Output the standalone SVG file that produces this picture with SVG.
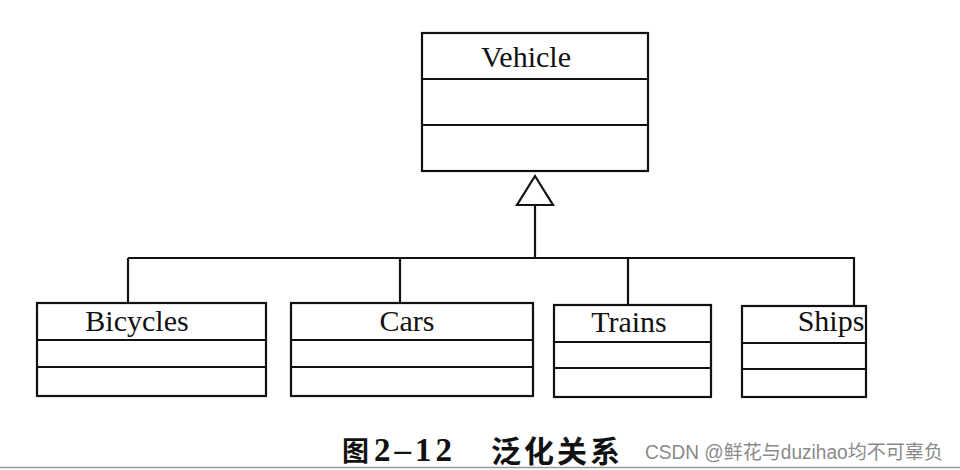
<svg xmlns="http://www.w3.org/2000/svg" width="960" height="470" viewBox="0 0 960 470">
<style>
.box{fill:none;stroke:#111;stroke-width:2.2}
.ln{fill:none;stroke:#111;stroke-width:2.2}
.lbl{font-family:"Liberation Serif",serif;font-size:30px;fill:#111;text-anchor:middle}
.cap{font-family:"Liberation Serif","Noto Sans CJK SC",serif;font-weight:bold;fill:#111}
.wm{font-family:"Liberation Sans","Noto Sans CJK SC",sans-serif;font-size:19.5px;fill:#8a8a8a}
</style>
<rect width="960" height="470" fill="#fff"/>
<g id="vehicle">
<rect class="box" x="422" y="33" width="226" height="138"/>
<line class="ln" x1="422" y1="79" x2="648" y2="79"/>
<line class="ln" x1="422" y1="125" x2="648" y2="125"/>
<text class="lbl" x="526" y="67">Vehicle</text>
</g>
<g id="connectors">
<polygon points="535,176 517,205 553,205" fill="#fff" stroke="#111" stroke-width="2.2" stroke-linejoin="miter"/>
<line class="ln" x1="535" y1="205" x2="535" y2="258"/>
<line class="ln" x1="128" y1="258" x2="855" y2="258"/>
<line class="ln" x1="128" y1="258" x2="128" y2="303"/>
<line class="ln" x1="400" y1="258" x2="400" y2="303"/>
<line class="ln" x1="628" y1="258" x2="628" y2="304"/>
<line class="ln" x1="854" y1="258" x2="854" y2="305"/>
</g>
<g id="bicycles">
<rect class="box" x="37" y="303" width="229" height="93"/>
<line class="ln" x1="37" y1="340" x2="266" y2="340"/>
<line class="ln" x1="37" y1="367" x2="266" y2="367"/>
<text class="lbl" x="137" y="331">Bicycles</text>
</g>
<g id="cars">
<rect class="box" x="291" y="303" width="242" height="93"/>
<line class="ln" x1="291" y1="340" x2="533" y2="340"/>
<line class="ln" x1="291" y1="367" x2="533" y2="367"/>
<text class="lbl" x="407" y="331">Cars</text>
</g>
<g id="trains">
<rect class="box" x="554" y="305" width="157" height="92"/>
<line class="ln" x1="554" y1="342" x2="711" y2="342"/>
<line class="ln" x1="554" y1="368" x2="711" y2="368"/>
<text class="lbl" x="629" y="332">Trains</text>
</g>
<g id="ships">
<rect class="box" x="742" y="306" width="124" height="91"/>
<line class="ln" x1="742" y1="343" x2="866" y2="343"/>
<line class="ln" x1="742" y1="369" x2="866" y2="369"/>
<text class="lbl" x="831" y="331">Ships</text>
</g>
<text class="cap" x="342" y="461" font-size="27">图</text>
<text class="cap" x="374" y="461" font-size="33" textLength="78" lengthAdjust="spacing">2–12</text>
<text class="cap" x="491" y="462" font-size="30" textLength="129" lengthAdjust="spacing">泛化关系</text>
<text class="wm" x="645" y="459" textLength="298" lengthAdjust="spacingAndGlyphs">CSDN @鲜花与duzihao均不可辜负</text>
<line x1="0" y1="467.5" x2="960" y2="467.5" stroke="#999" stroke-width="1.5"/>
</svg>
